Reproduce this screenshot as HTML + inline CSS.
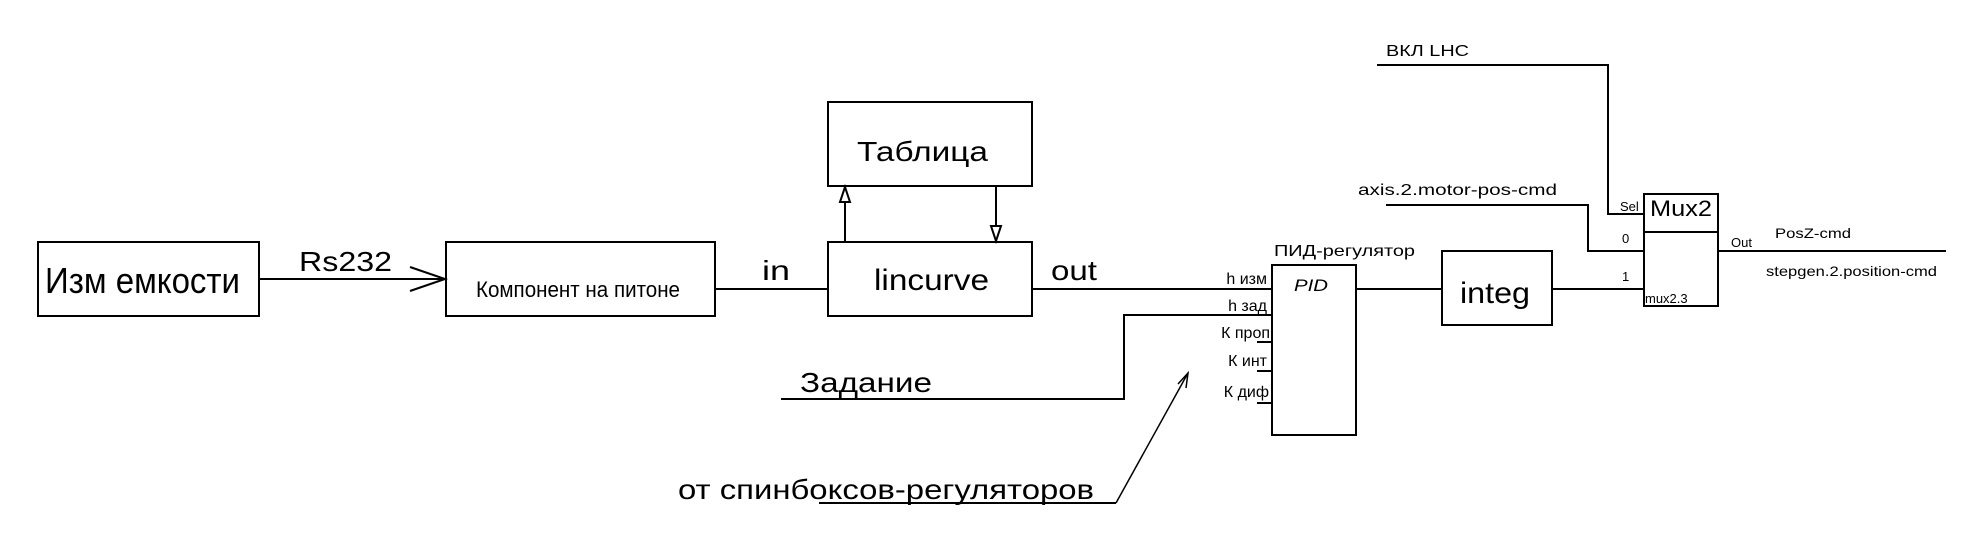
<!DOCTYPE html>
<html><head><meta charset="utf-8"><style>html,body{margin:0;padding:0;background:#fff}svg{display:block}</style></head>
<body>
<svg width="1971" height="537" viewBox="0 0 1971 537" xmlns="http://www.w3.org/2000/svg" font-family="Liberation Sans, DejaVu Sans, sans-serif" fill="#000">
<g fill="none" stroke="#000" stroke-width="2">
<rect x="38" y="242" width="221" height="74"/>
<rect x="446" y="242" width="269" height="74"/>
<rect x="828" y="242" width="204" height="74"/>
<rect x="828" y="102" width="204" height="84"/>
<rect x="1272" y="265" width="84" height="170"/>
<rect x="1442" y="251" width="110" height="74"/>
<rect x="1644" y="194" width="74" height="112"/>
<line x1="1644" y1="232" x2="1718" y2="232"/>
<line x1="259" y1="279" x2="445" y2="279"/>
<polyline points="410,267 445,279 410,291"/>
<line x1="715" y1="289" x2="828" y2="289"/>
<line x1="845" y1="242" x2="845" y2="202"/>
<polygon points="845,187 840,202 850,202"/>
<line x1="996" y1="186" x2="996" y2="226"/>
<polygon points="996,241 991,226 1001,226"/>
<line x1="1032" y1="289" x2="1272" y2="289"/>
<polyline points="781,399 1124,399 1124,315 1272,315"/>
<line x1="1257" y1="342" x2="1272" y2="342"/>
<line x1="1257" y1="371" x2="1272" y2="371"/>
<line x1="1257" y1="403" x2="1272" y2="403"/>
<polyline points="819,503 1116,503"/>
<line x1="1116" y1="503" x2="1188" y2="373" stroke-width="1.5"/>
<polyline points="1178,384 1188,373 1186,388" stroke-width="1.5"/>
<line x1="1356" y1="289" x2="1442" y2="289"/>
<line x1="1552" y1="289" x2="1644" y2="289"/>
<polyline points="1386,205 1588,205 1588,251 1644,251"/>
<polyline points="1377,65 1608,65 1608,214 1644,214"/>
<line x1="1718" y1="251" x2="1946" y2="251"/>
</g>
<text x="45" y="293" font-size="36" textLength="195" lengthAdjust="spacingAndGlyphs">Изм емкости</text>
<text x="299" y="271" font-size="28" textLength="93" lengthAdjust="spacingAndGlyphs">Rs232</text>
<text x="476" y="297" font-size="22" textLength="204" lengthAdjust="spacingAndGlyphs">Компонент на питоне</text>
<text x="762" y="280" font-size="28" textLength="28" lengthAdjust="spacingAndGlyphs">in</text>
<text x="874" y="290" font-size="30" textLength="115" lengthAdjust="spacingAndGlyphs">lincurve</text>
<text x="857" y="161" font-size="28" textLength="131" lengthAdjust="spacingAndGlyphs">Таблица</text>
<text x="1051" y="280" font-size="28" textLength="46" lengthAdjust="spacingAndGlyphs">out</text>
<text x="800" y="392" font-size="28" textLength="132" lengthAdjust="spacingAndGlyphs">Задание</text>
<text x="678" y="499" font-size="28" textLength="416" lengthAdjust="spacingAndGlyphs">от спинбоксов-регуляторов</text>
<text x="1274" y="256" font-size="16" textLength="141" lengthAdjust="spacingAndGlyphs">ПИД-регулятор</text>
<text x="1294" y="291" font-size="17" font-style="italic" textLength="34" lengthAdjust="spacingAndGlyphs">PID</text>
<g font-size="16" text-anchor="end">
<text x="1267" y="284">h изм</text>
<text x="1267" y="311">h зад</text>
<text x="1270" y="338">К проп</text>
<text x="1267" y="366">К инт</text>
<text x="1269" y="397">К диф</text>
</g>
<text x="1460" y="303" font-size="30" textLength="70" lengthAdjust="spacingAndGlyphs">integ</text>
<text x="1650" y="216" font-size="22" textLength="62" lengthAdjust="spacingAndGlyphs">Mux2</text>
<text x="1645" y="303" font-size="13">mux2.3</text>
<text x="1620" y="211" font-size="13">Sel</text>
<text x="1622" y="243" font-size="13">0</text>
<text x="1622" y="281" font-size="13">1</text>
<text x="1731" y="247" font-size="13">Out</text>
<text x="1358" y="195" font-size="16" textLength="199" lengthAdjust="spacingAndGlyphs">axis.2.motor-pos-cmd</text>
<text x="1386" y="56" font-size="16" textLength="83" lengthAdjust="spacingAndGlyphs">ВКЛ LHC</text>
<text x="1775" y="238" font-size="14" textLength="76" lengthAdjust="spacingAndGlyphs">PosZ-cmd</text>
<text x="1766" y="276" font-size="14" textLength="171" lengthAdjust="spacingAndGlyphs">stepgen.2.position-cmd</text>
</svg>
</body></html>
